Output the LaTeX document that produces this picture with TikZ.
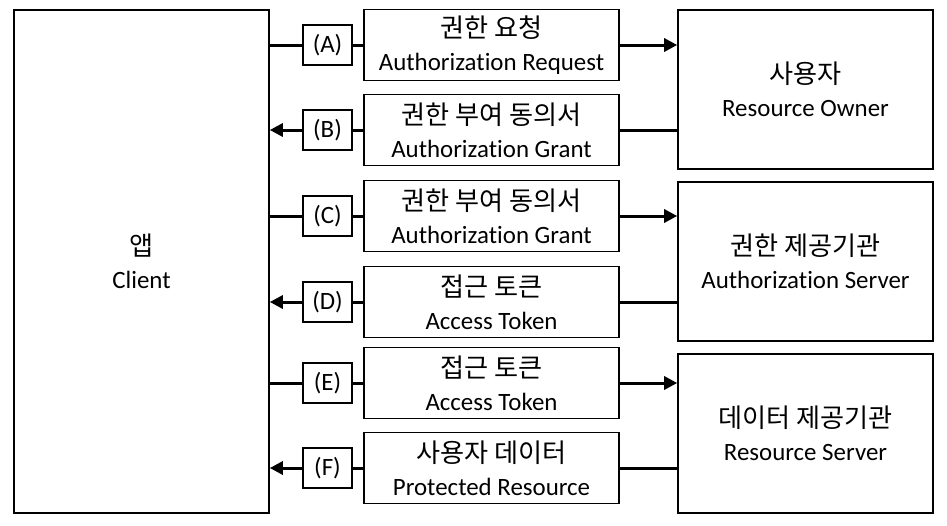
\documentclass[tikz,border=0pt]{standalone}
\usepackage{fontspec}
\setmainfont{Carlito}[Ligatures=NoCommon]
\newfontfamily\kr[Scale=1.05]{Noto Sans CJK KR}
\usetikzlibrary{arrows.meta}

\tikzset{
  box/.style={draw, line width=1.6pt, minimum width=255pt, align=center, inner sep=0pt,
    font=\fontsize{24.9}{33}\selectfont},
  party/.style={box, minimum height=159pt},
  msg/.style={box, minimum height=71pt},
  tag/.style={draw, line width=1.6pt, minimum width=49pt, minimum height=40pt, inner sep=0pt,
    font=\fontsize{24.9}{30}\selectfont},
  conn/.style={line width=3pt},
  flow/.style={conn, -{Triangle[length=13pt,width=13pt]}}
}

\begin{document}
\begin{tikzpicture}[x=1pt,y=-1pt]
	\useasboundingbox (0,0) rectangle (947,525);
	% parties
	\node[box, minimum height=503pt] (client) at (141.5,261.5) {{\kr 앱}\\Client};
	\node[party] (owner) at (805.5,89.5) {{\kr 사용자}\\Resource Owner};
	\node[party] (authsrv) at (805.5,261.5) {{\kr 권한 제공기관}\\Authorization Server};
	\node[party] (ressrv) at (805.5,433.5) {{\kr 데이터 제공기관}\\Resource Server};
	% messages
	\node[msg] (msgA) at (491.5,45) {{\kr 권한 요청}\\Authorization Request};
	\node[msg] (msgB) at (491.5,130) {{\kr 권한 부여 동의서}\\Authorization Grant};
	\node[msg] (msgC) at (491.5,216) {{\kr 권한 부여 동의서}\\Authorization Grant};
	\node[msg] (msgD) at (491.5,302) {{\kr 접근 토큰}\\Access Token};
	\node[msg] (msgE) at (491.5,383) {{\kr 접근 토큰}\\Access Token};
	\node[msg] (msgF) at (491.5,468) {{\kr 사용자 데이터}\\Protected Resource};
	% step tags
	\node[tag] (tagA) at (327.5,45) {(A)};
	\node[tag] (tagB) at (327.5,130) {(B)};
	\node[tag] (tagC) at (327.5,216) {(C)};
	\node[tag] (tagD) at (327.5,302) {(D)};
	\node[tag] (tagE) at (327.5,383) {(E)};
	\node[tag] (tagF) at (327.5,468) {(F)};
	% client -> server
	\draw[conn] (client.east |- tagA) -- (tagA) -- (msgA);
	\draw[flow] (msgA) -- (owner.west |- msgA);
	\draw[conn] (client.east |- tagC) -- (tagC) -- (msgC);
	\draw[flow] (msgC) -- (authsrv.west |- msgC);
	\draw[conn] (client.east |- tagE) -- (tagE) -- (msgE);
	\draw[flow] (msgE) -- (ressrv.west |- msgE);
	% server -> client
	\draw[conn] (owner.west |- msgB) -- (msgB) -- (tagB);
	\draw[flow] (tagB) -- (client.east |- tagB);
	\draw[conn] (authsrv.west |- msgD) -- (msgD) -- (tagD);
	\draw[flow] (tagD) -- (client.east |- tagD);
	\draw[conn] (ressrv.west |- msgF) -- (msgF) -- (tagF);
	\draw[flow] (tagF) -- (client.east |- tagF);
\end{tikzpicture}
\end{document}
